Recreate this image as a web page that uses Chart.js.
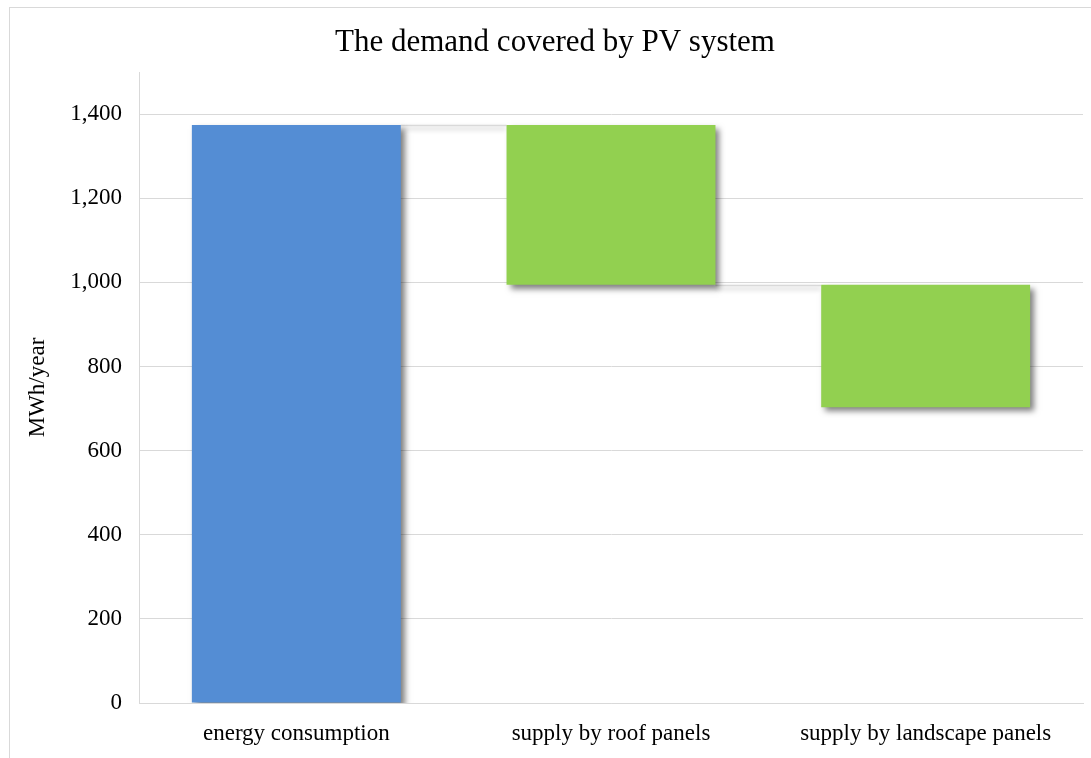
<!DOCTYPE html>
<html>
<head>
<meta charset="utf-8">
<script src="https://cdn.jsdelivr.net/npm/chart.js@4.4.1/dist/chart.umd.min.js"></script>
<style>
  html, body { margin: 0; padding: 0; background: #fff; }
  #frame { position: absolute; left: 9px; top: 7px; width: 1100px; height: 800px;
           border-left: 1px solid #d9d9d9; border-top: 1px solid #d9d9d9; }
  #wrap { position: absolute; left: 0; top: 0; width: 1091px; height: 758px; }
</style>
</head>
<body>
<div id="frame"></div>
<div id="wrap"><canvas id="c" width="1091" height="758"></canvas></div>
<script>
const titleText = 'The demand covered by PV system';
const axisTitle = 'MWh/year';
const categories = ['energy consumption', 'supply by roof panels', 'supply by landscape panels'];
const changes = [1374, -380, -291];
const barColors = ['#548DD4', '#92D050', '#92D050'];
const yTicks = [0, 200, 400, 600, 800, 1000, 1200, 1400];

// build floating ranges for the waterfall from the changes
const ranges = [];
let running = 0;
changes.forEach(v => {
  const start = running;
  running += v;
  ranges.push([Math.min(start, running), Math.max(start, running)]);
});
const levels = [];
running = 0;
changes.forEach(v => { running += v; levels.push(running); });

const FONT = "'Liberation Serif', 'Times New Roman', serif";

const shadowPlugin = {
  id: 'shadow',
  beforeDatasetDraw(chart) {
    const ctx = chart.ctx;
    ctx.save();
    ctx.shadowColor = 'rgba(0,0,0,0.5)';
    ctx.shadowBlur = 6;
    ctx.shadowOffsetX = 4;
    ctx.shadowOffsetY = 4;
  },
  afterDatasetDraw(chart) { chart.ctx.restore(); }
};

const connectorPlugin = {
  id: 'connectors',
  beforeDatasetsDraw(chart) {
    const ctx = chart.ctx;
    const meta = chart.getDatasetMeta(0);
    const y = chart.scales.y;
    ctx.save();
    ctx.strokeStyle = '#d9d9d9';
    ctx.lineWidth = 1.5;
    ctx.shadowColor = 'rgba(0,0,0,0.3)';
    ctx.shadowBlur = 5;
    ctx.shadowOffsetY = 3;
    for (let i = 0; i < meta.data.length - 1; i++) {
      const a = meta.data[i], b = meta.data[i + 1];
      const py = Math.round(y.getPixelForValue(levels[i])) + 0.5;
      ctx.beginPath();
      ctx.moveTo(a.x + a.width / 2, py);
      ctx.lineTo(b.x - b.width / 2, py);
      ctx.stroke();
    }
    ctx.restore();
  }
};

const titlePlugin = {
  id: 'customTitle',
  afterDraw(chart) {
    const ctx = chart.ctx;
    ctx.save();
    ctx.fillStyle = '#000';
    ctx.font = '31px ' + FONT;
    ctx.textAlign = 'center';
    ctx.textBaseline = 'alphabetic';
    ctx.fillText(titleText, 555, 51);
    ctx.restore();
  }
};

new Chart(document.getElementById('c'), {
  type: 'bar',
  data: {
    labels: categories,
    datasets: [{
      data: ranges,
      backgroundColor: barColors,
      borderWidth: 0,
      barPercentage: 0.664,
      categoryPercentage: 1.0
    }]
  },
  options: {
    responsive: false,
    animation: false,
    layout: { padding: { top: 72, right: 8, left: 0, bottom: 0 } },
    plugins: { legend: { display: false }, tooltip: { enabled: false }, title: { display: false } },
    scales: {
      x: {
        grid: { display: false, drawTicks: false },
        border: { display: true, color: '#d9d9d9' },
        ticks: { color: '#000', font: { family: FONT, size: 23 }, padding: 17, maxRotation: 0 },
        afterFit(s) { s.height = 55; }
      },
      y: {
        min: 0, max: 1500,
        afterBuildTicks(s) { s.ticks = yTicks.map(v => ({ value: v })); },
        grid: { color: '#d9d9d9', drawTicks: false },
        border: { display: true, color: '#d9d9d9' },
        ticks: { color: '#000', font: { family: FONT, size: 23 }, padding: 17,
                 callback: v => v.toLocaleString('en-US') },
        title: { display: true, text: axisTitle, color: '#000',
                 font: { family: FONT, size: 23 }, padding: { top: 24, bottom: 0 } },
        afterFit(s) { s.width = 139; }
      }
    }
  },
  plugins: [shadowPlugin, connectorPlugin, titlePlugin]
});
</script>
</body>
</html>
